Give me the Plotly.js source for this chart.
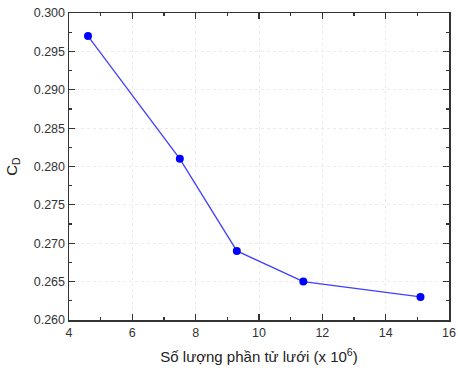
<!DOCTYPE html>
<html><head><meta charset="utf-8">
<script src="https://cdn.plot.ly/plotly-3.0.1.min.js"></script>
<style>html,body{margin:0;padding:0;background:#fff}#c{width:458px;height:374px}</style>
</head><body><div id="c"></div>
<script>
const meshCount = [4.6, 7.5, 9.3, 11.4, 15.1];
const cdValues = [0.297, 0.281, 0.269, 0.265, 0.263];
const xTicks = [4, 6, 8, 10, 12, 14, 16];
const yTicks = [0.260, 0.265, 0.270, 0.275, 0.280, 0.285, 0.290, 0.295, 0.300];

const trace = {
  x: meshCount, y: cdValues, type: 'scatter', mode: 'lines+markers',
  line: {color: '#4040ff', width: 1.3},
  marker: {color: '#0000ff', size: 8},
  showlegend: false, cliponaxis: false
};
const axisCommon = {
  showline: true, linecolor: '#333', linewidth: 1.5, mirror: 'ticks',
  ticks: 'inside', ticklen: 6, tickwidth: 1.2, tickcolor: '#333',
  showgrid: true, gridcolor: '#ebebeb', griddash: 'dot', gridwidth: 1,
  zeroline: false, ticklabeloverflow: 'allow',
  tickfont: {family: 'Liberation Sans, Arial, sans-serif', size: 12.5, color: '#333'}
};
const layout = {
  width: 458, height: 374,
  margin: {l: 69, r: 9, t: 13, b: 54},
  paper_bgcolor: '#fff', plot_bgcolor: '#fff',
  xaxis: Object.assign({}, axisCommon, {
    range: [4, 16], tickvals: xTicks, ticktext: xTicks.map(String),
    minor: {dtick: 1, ticks: 'inside', ticklen: 3, tickcolor: '#333', showgrid: false},
    title: {text: 'Số lượng phần tử lưới (x 10<sup>6</sup>)', standoff: 13,
      font: {family: 'Liberation Sans, Arial, sans-serif', size: 15, color: '#222'}}
  }),
  yaxis: Object.assign({}, axisCommon, {
    range: [0.26, 0.30], tickvals: yTicks, ticktext: yTicks.map(v => v.toFixed(3)),
    minor: {dtick: 0.0025, ticks: 'inside', ticklen: 3, tickcolor: '#333', showgrid: false},
    title: {text: 'C<sub>D</sub>', standoff: 12,
      font: {family: 'Liberation Sans, Arial, sans-serif', size: 15, color: '#222'}}
  })
};
Plotly.newPlot('c', [trace], layout, {displayModeBar: false, staticPlot: true});
</script></body></html>
